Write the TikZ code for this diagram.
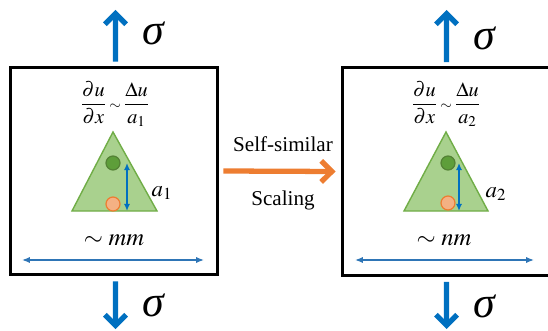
\documentclass[tikz,border=0pt]{standalone}
\usepackage{mathptmx}
\usepackage[no-math]{fontspec}
\setmainfont{Liberation Serif}
\usetikzlibrary{positioning,arrows.meta}
\definecolor{loadblue}{HTML}{0070C0}
\definecolor{spanblue}{HTML}{2E75B6}
\definecolor{grainfill}{HTML}{A9D18E}
\definecolor{grainline}{HTML}{70AD47}
\definecolor{dotgreen}{HTML}{5E9E3A}
\definecolor{dotgreenline}{HTML}{548235}
\definecolor{dotorange}{HTML}{F4B183}
\definecolor{scaleorange}{HTML}{ED7D31}

\begin{document}
\begin{tikzpicture}[
    x=0.02cm, y=-0.02cm,
    panel/.style={draw=black, line width=1.7pt, minimum width=4.16cm, minimum height=4.16cm, inner sep=0pt},
    loadarrow/.style={draw=loadblue, line width=3pt, -{Straight Barb[length=6pt, width=12pt]}},
    sig/.style={font=\fontsize{25}{30}\selectfont\itshape, inner sep=0pt},
    gradtext/.style={font=\fontsize{11.5}{14}\selectfont, inner sep=0pt},
    grain/.style={draw=grainline, fill=grainfill, line width=0.8pt},
    greendot/.style={circle, draw=dotgreenline, fill=dotgreen, line width=0.7pt, minimum size=0.28cm, inner sep=0pt},
    orangedot/.style={circle, draw=scaleorange, fill=dotorange, line width=0.7pt, minimum size=0.28cm, inner sep=0pt},
    sizearrow/.style={draw=loadblue, line width=0.8pt, {Latex[length=4pt,width=3.5pt]}-{Latex[length=4pt,width=3.5pt]}},
    spanarrow/.style={draw=spanblue, line width=0.7pt, {Latex[length=4.5pt,width=3.5pt]}-{Latex[length=4.5pt,width=3.5pt]}},
    scalearrow/.style={draw=scaleorange, line width=3pt, -{Straight Barb[length=6pt, width=12pt]}}
]
    \useasboundingbox (0,0) rectangle (548,331);

    % Pannelli
    \node[panel] (left) at (114,171) {};
    \node[panel] (right) at (446,171.5) {};

    % Carichi sigma
    \coordinate (ltop) at (115.5,10);
    \coordinate (lbot) at (115.5,329);
    \coordinate (rtop) at (446.5,10);
    \coordinate (rbot) at (446.5,329);
    \draw[loadarrow] ([xshift=0.03cm, yshift=0.08cm]left.north) -- (ltop);
    \draw[loadarrow] ([xshift=0.03cm, yshift=-0.1cm]left.south) -- (lbot);
    \draw[loadarrow] ([xshift=0.01cm, yshift=0.08cm]right.north) -- (rtop);
    \draw[loadarrow] ([xshift=0.01cm, yshift=-0.1cm]right.south) -- (rbot);
    \node[sig] (sl1) at (153,33) {σ};
    \node[sig] (sl2) at (153,305) {σ};
    \node[sig] (sr1) at (484,38) {σ};
    \node[sig] (sr2) at (484,306) {σ};

    % Gradiente
    \node[gradtext] (eq1) at (115,104) {$\nulldelimiterspace=0pt\displaystyle\frac{\partial u}{\partial x}\;{\scriptstyle\sim}\;\frac{\Delta u}{a_1}$};
    \node[gradtext] (eq2) at (446,104) {$\nulldelimiterspace=0pt\displaystyle\frac{\partial u}{\partial x}\;{\scriptstyle\sim}\;\frac{\Delta u}{a_2}$};

    % Grani
    \draw[grain] (113,132) -- (157,211) -- (72,211) -- cycle;
    \draw[grain] (446,132) -- (488,211) -- (404,211) -- cycle;
    \node[greendot] (g1) at (113,163) {};
    \node[orangedot] (o1) at (113,204) {};
    \node[greendot] (g2) at (448,163) {};
    \node[orangedot] (o2) at (448,203) {};

    \coordinate (a1top) at (127,163);
    \coordinate (a1bot) at (127,211);
    \coordinate (a2top) at (459,163);
    \coordinate (a2bot) at (459,211);
    \draw[sizearrow] (a1top) -- (a1bot);
    \draw[sizearrow] (a2top) -- (a2bot);
    \node[font=\fontsize{13}{15}\selectfont] (la1) at (162,193) {$a_1$};
    \node[font=\fontsize{13}{15}\selectfont] (la2) at (496,194) {$a_2$};

    % Scala
    \node[font=\fontsize{14}{17}\selectfont] (mm) at (114,240) {$\sim mm$};
    \node[font=\fontsize{14}{17}\selectfont] (nm) at (444,240) {$\sim nm$};
    \coordinate (sl) at (22,260);
    \coordinate (sr) at (204,260);
    \coordinate (tl) at (355,260);
    \coordinate (tr) at (534,260);
    \draw[spanarrow] (sl) -- (sr);
    \draw[spanarrow] (tl) -- (tr);

    % Freccia centrale
    \draw[scalearrow] ([xshift=0.08cm]left.east) -- ([xshift=-0.1cm]right.west);
    \node[font=\fontsize{12}{14}\selectfont] (self) at (283,144) {Self-similar};
    \node[font=\fontsize{12}{14}\selectfont] (scal) at (283,200) {Scaling};
\end{tikzpicture}
\end{document}
